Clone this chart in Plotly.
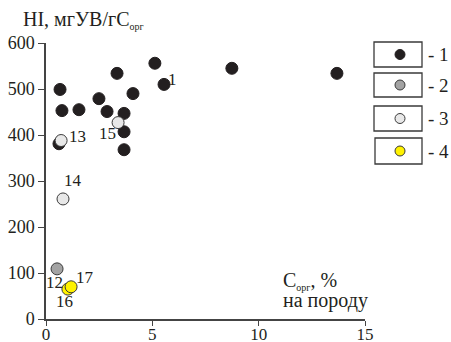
import plotly.graph_objects as go

# ---- data ----
g1_x = [0.66, 0.75, 1.55, 2.49, 3.34, 2.87, 3.67, 4.09, 5.12, 5.55, 3.67, 3.67, 0.61, 8.74, 13.68]
g1_y = [499, 453, 455, 479, 534, 451, 447, 490, 556, 510, 407, 368, 381, 545, 534]
g2_x = [0.52]
g2_y = [109]
g3_x = [0.71, 3.39, 0.80]
g3_y = [388, 427, 261]
g4_x = [1.03, 1.18]
g4_y = [65, 70]

lbl_text = ["1", "13", "15", "14", "12", "17", "16"]
lbl_x = [5.97, 1.46, 2.91, 1.27, 0.42, 1.83, 0.85]
lbl_y = [520, 396, 404, 302, 80, 91, 37]

x_ticks = [0, 5, 10, 15]
y_ticks = [0, 100, 200, 300, 400, 500, 600]
legend_labels = ["- 1", "- 2", "- 3", "- 4"]

FONT = "Liberation Serif, Times New Roman, serif"
W, H = 451, 342
L, R, T, B = 46, 86, 43, 23
PW, PH = W - L - R, H - T - B

def px(x):
    return (x - L) / PW

def py(y):
    return (H - B - y) / PH

styles = [
    dict(color="#231f20", line=dict(color="#231f20", width=1)),
    dict(color="#a3a3a3", line=dict(color="#3a3a3a", width=1)),
    dict(color="#e8e8e8", line=dict(color="#3a3a3a", width=1)),
    dict(color="#fff200", line=dict(color="#3a3a3a", width=1)),
]

fig = go.Figure()
for xs, ys, st in [(g1_x, g1_y, styles[0]), (g2_x, g2_y, styles[1]),
                   (g3_x, g3_y, styles[2]), (g4_x, g4_y, styles[3])]:
    fig.add_trace(go.Scatter(x=xs, y=ys, mode="markers",
                             marker=dict(size=12, **st), cliponaxis=False,
                             showlegend=False, hoverinfo="skip"))

annotations = []
for t, x, y in zip(lbl_text, lbl_x, lbl_y):
    annotations.append(dict(x=x, y=y, text=t, showarrow=False, xref="x", yref="y",
                            font=dict(family=FONT, size=17, color="#231f20")))

# axis titles
annotations.append(dict(x=px(21), y=py(20), xref="paper", yref="paper", xanchor="left",
                        yanchor="middle", showarrow=False,
                        text="HI, мгУВ/гС<sub><span style='font-size:10px'>орг</span></sub>",
                        font=dict(family=FONT, size=20, color="#231f20")))
annotations.append(dict(x=px(281), y=py(281), xref="paper", yref="paper", xanchor="left",
                        yanchor="middle", showarrow=False,
                        text="C<sub><span style='font-size:10px'>орг</span></sub>, %",
                        font=dict(family=FONT, size=20, color="#231f20")))
annotations.append(dict(x=px(281), y=py(300), xref="paper", yref="paper", xanchor="left",
                        yanchor="middle", showarrow=False, text="на породу",
                        font=dict(family=FONT, size=20, color="#231f20")))

# legend boxes
shapes = []
boxes = [(374, 42, 422, 67), (374, 73, 422, 97), (374, 106, 422, 131), (375, 138, 422, 164)]
for (x0, y0, x1, y1), st, lab in zip(boxes, styles, legend_labels):
    shapes.append(dict(type="rect", xref="paper", yref="paper",
                       x0=px(x0), x1=px(x1), y0=py(y1), y1=py(y0),
                       line=dict(color="#3a3a3a", width=1.3), fillcolor="white"))
    cx, cy = 400, (y0 + y1) / 2
    shapes.append(dict(type="circle", xref="paper", yref="paper",
                       xsizemode="pixel", ysizemode="pixel",
                       xanchor=px(cx), yanchor=py(cy),
                       x0=-5, x1=5, y0=-5, y1=5,
                       fillcolor=st["color"], line=dict(color=st["line"]["color"], width=1)))
    annotations.append(dict(x=px(426), y=py(cy), xref="paper", yref="paper",
                            xanchor="left", yanchor="middle", showarrow=False, text=lab,
                            font=dict(family=FONT, size=19, color="#231f20")))

fig.update_layout(
    width=W, height=H,
    margin=dict(l=L, r=R, t=T, b=B, autoexpand=False),
    paper_bgcolor="white", plot_bgcolor="white",
    annotations=annotations, shapes=shapes,
    font=dict(family=FONT, size=18, color="#231f20"),
    xaxis=dict(range=[0, 15], tickvals=x_ticks, ticks="outside", ticklen=5,
               ticklabelstandoff=-6,
               tickcolor="#444", showline=True, linecolor="#444", linewidth=1.5,
               showgrid=False, zeroline=False, fixedrange=True, automargin=False,
               tickfont=dict(family=FONT, size=17, color="#231f20")),
    yaxis=dict(range=[0, 600], tickvals=y_ticks, ticks="outside", ticklen=6,
               tickcolor="#444", showline=True, linecolor="#444", linewidth=1.5,
               showgrid=False, zeroline=False, fixedrange=True, automargin=False,
               tickfont=dict(family=FONT, size=18, color="#231f20")),
)

fig.write_html("out.html")
